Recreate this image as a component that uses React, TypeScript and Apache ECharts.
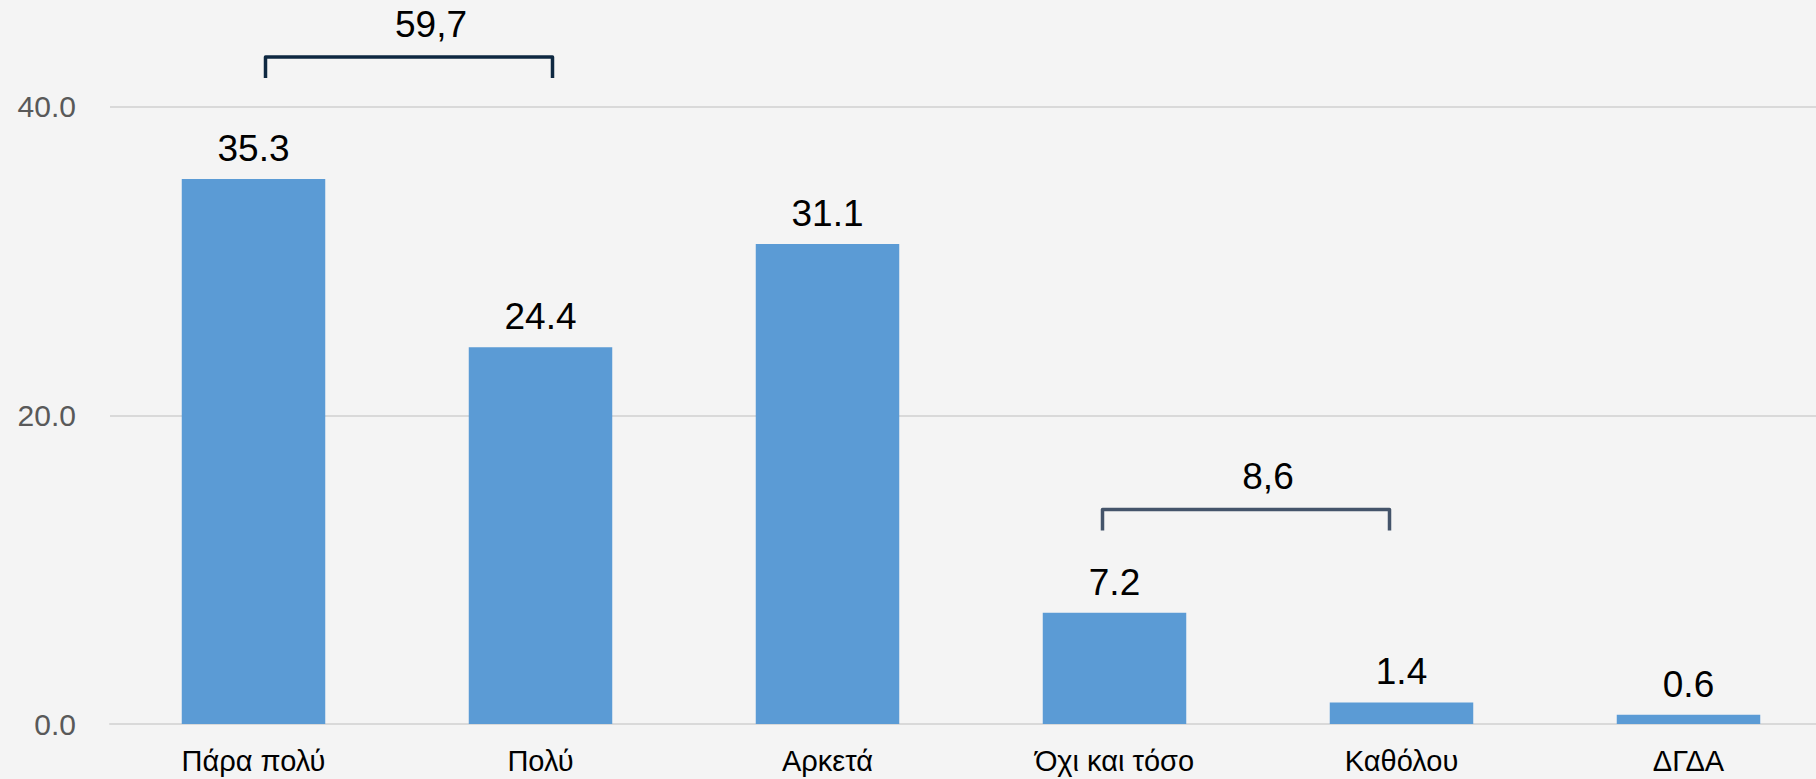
import React, { useEffect, useRef } from "react";
import * as echarts from "echarts";

const categories = ["Πάρα πολύ", "Πολύ", "Αρκετά", "Όχι και τόσο", "Καθόλου", "ΔΓΔΑ"];
const values = [35.3, 24.4, 31.1, 7.2, 1.4, 0.6];
const yTicks = { min: 0, max: 40, interval: 20 };
const bracketFrom = [0, 3];
const bracketTo = [1, 4];
const bracketLabels = ["59,7", "8,6"];
const bracketLevels = [43.2, 13.9];

const FONT = "'Liberation Sans', Arial, sans-serif";

export default function App() {
  const ref = useRef<HTMLDivElement>(null);
  useEffect(() => {
    document.body.style.margin = "0";
    document.body.style.overflow = "hidden";
    document.documentElement.style.overflow = "hidden";
    const chart = echarts.init(ref.current!, null, { renderer: "svg" });
    chart.setOption({
      animation: false,
      backgroundColor: "#F4F4F4",
      grid: { left: 110, right: 0, top: 106.5, bottom: 55, containLabel: false },
      xAxis: {
        type: "category",
        data: categories,
        axisLine: { show: true, lineStyle: { color: "#D9D9D9", width: 2 } },
        axisTick: { show: false },
        axisLabel: { color: "#000000", fontSize: 29, fontFamily: FONT, margin: 22 },
      },
      yAxis: {
        type: "value",
        min: yTicks.min,
        max: yTicks.max,
        interval: yTicks.interval,
        axisLine: { show: false },
        axisTick: { show: false },
        splitLine: { lineStyle: { color: "#D9D9D9", width: 2 } },
        axisLabel: {
          color: "#595959",
          fontSize: 30,
          fontFamily: FONT,
          margin: 34,
          formatter: (v: number) => v.toFixed(1),
        },
      },
      series: [
        {
          type: "bar",
          data: values,
          barWidth: "50%",
          itemStyle: { color: "#5B9BD5" },
          label: {
            show: true,
            position: "top",
            distance: 12,
            color: "#000000",
            fontSize: 37,
            fontFamily: FONT,
            formatter: (p: any) => Number(p.value).toFixed(1),
          },
        },
      ],
    });

    const colors = ["#0E2841", "#44546A"];
    const graphics: any[] = [];
    for (let i = 0; i < bracketLabels.length; i++) {
      const off = i === 0 ? 12 : -12;
      const x1 = (chart.convertToPixel({ xAxisIndex: 0 }, bracketFrom[i]) as number) + off;
      const x2 = (chart.convertToPixel({ xAxisIndex: 0 }, bracketTo[i]) as number) + off;
      const yTop = chart.convertToPixel({ yAxisIndex: 0 }, bracketLevels[i]) as number;
      const yEnd = yTop + 21;
      graphics.push({
        type: "polyline",
        shape: { points: [[x1, yEnd], [x1, yTop], [x2, yTop], [x2, yEnd]] },
        style: { stroke: colors[i], lineWidth: 3.5, fill: null, lineJoin: "round" },
        silent: true,
      });
      graphics.push({
        type: "text",
        x: (x1 + x2) / 2 + 22,
        y: yTop - 33,
        style: {
          text: bracketLabels[i],
          fill: "#000000",
          fontSize: 37,
          fontFamily: FONT,
          align: "center",
          verticalAlign: "middle",
        },
        silent: true,
      });
    }
    chart.setOption({ graphic: graphics });

    return () => chart.dispose();
  }, []);
  return <div ref={ref} style={{ width: 1832, height: 779 }} />;
}
